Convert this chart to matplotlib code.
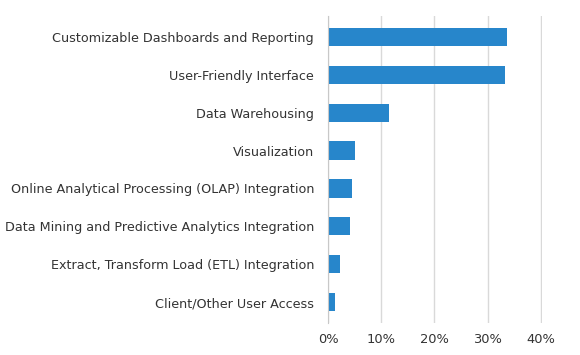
import matplotlib
matplotlib.use('Agg')
import matplotlib.pyplot as plt
from matplotlib.ticker import FuncFormatter

# Data
features = [
    'Customizable Dashboards and Reporting',
    'User-Friendly Interface',
    'Data Warehousing',
    'Visualization',
    'Online Analytical Processing (OLAP) Integration',
    'Data Mining and Predictive Analytics Integration',
    'Extract, Transform Load (ETL) Integration',
    'Client/Other User Access',
]
shares = [33.6, 33.2, 11.4, 5.0, 4.5, 4.1, 2.3, 1.3]
xticks = [0, 10, 20, 30, 40]

fig = plt.figure(figsize=(5.8, 3.55), dpi=100)
ax = fig.add_axes([0.5655, 0.09, 0.3690, 0.865])

ypos = list(range(len(features)))
ax.barh(ypos, shares, height=0.48, color='#2786cb', zorder=3)
ax.set_yticks(ypos)
ax.set_yticklabels(features)
ax.set_ylim(len(features) - 0.45, -0.55)

ax.set_xlim(0, 40.2)
ax.set_xticks(xticks)
ax.xaxis.set_major_formatter(FuncFormatter(lambda v, p: f'{v:.0f}%'))
ax.grid(axis='x', color='#d9d9d9', linewidth=1, zorder=0)

for s in ['top', 'right', 'bottom']:
    ax.spines[s].set_visible(False)
ax.spines['left'].set_color('#c8c8c8')
ax.spines['left'].set_zorder(4)

ax.tick_params(axis='y', length=0, labelsize=9.2, colors='#333333', pad=10)
ax.tick_params(axis='x', length=0, labelsize=9.4, colors='#333333', pad=7)

fig.savefig('out.png', dpi=100)
